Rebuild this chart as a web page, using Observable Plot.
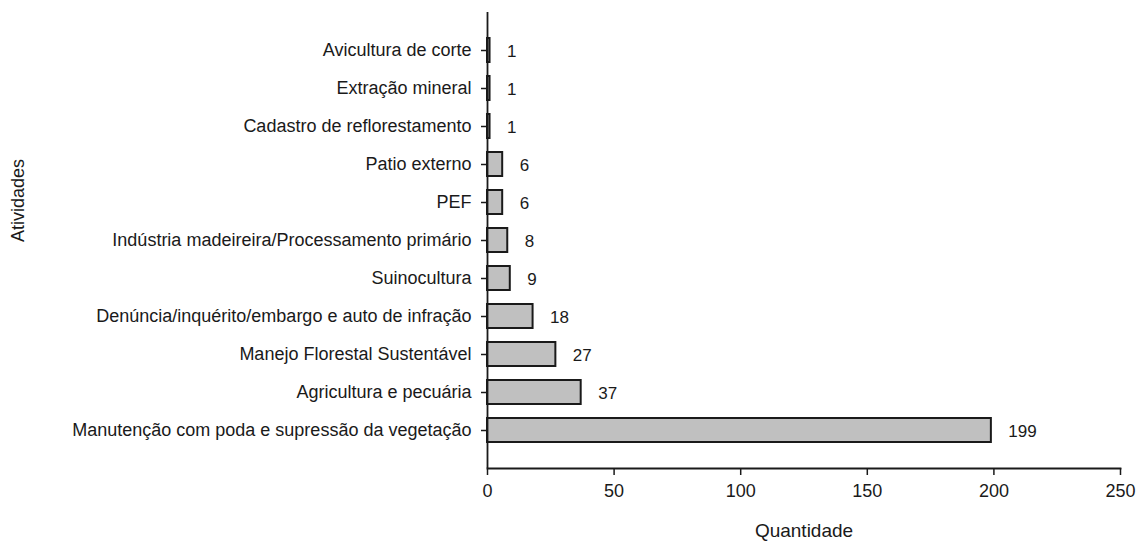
<!DOCTYPE html>
<html>
<head>
<meta charset="utf-8">
<script src="https://cdn.jsdelivr.net/npm/d3@7"></script>
<script src="https://cdn.jsdelivr.net/npm/@observablehq/plot@0.6"></script>
<style>
  html, body { margin: 0; padding: 0; background: #fff; }
</style>
</head>
<body>
<div id="chart"></div>
<script>
const categories = [
  "Avicultura de corte",
  "Extração mineral",
  "Cadastro de reflorestamento",
  "Patio externo",
  "PEF",
  "Indústria madeireira/Processamento primário",
  "Suinocultura",
  "Denúncia/inquérito/embargo e auto de infração",
  "Manejo Florestal Sustentável",
  "Agricultura e pecuária",
  "Manutenção com poda e supressão da vegetação"
];
const values = [1, 1, 1, 6, 6, 8, 9, 18, 27, 37, 199];
const xTicks = [0, 50, 100, 150, 200, 250];
const xTitle = "Quantidade";
const yTitle = "Atividades";

const data = categories.map((c, i) => ({cat: c, value: values[i]}));

const chart = Plot.plot({
  width: 1142,
  height: 542,
  marginLeft: 487,
  marginRight: 22,
  marginTop: 12,
  marginBottom: 74,
  style: {fontFamily: "'Liberation Sans', Arial, sans-serif", fontSize: "18px", color: "#1a1a1a", background: "#fff"},
  x: {domain: [0, 250], label: null},
  y: {domain: categories, paddingInner: 0.37, paddingOuter: 0.68, label: null},
  marks: [
    Plot.barX(data, {x: "value", y: "cat", fill: "#c0c0c0", stroke: "#1a1a1a", strokeWidth: 2}),
    Plot.text(data, {x: "value", y: "cat", text: d => String(d.value), textAnchor: "start", dx: 17, dy: 1, fontSize: 17, fill: "#1a1a1a"}),
    Plot.ruleX([0], {stroke: "#1a1a1a", strokeWidth: 1.8}),
    Plot.frame({anchor: "bottom", stroke: "#1a1a1a", strokeWidth: 1.8}),
    Plot.axisX({ticks: xTicks, tickSize: 7, tickPadding: 9, label: null, fontSize: 18, strokeWidth: 1.5}),
    Plot.axisY({tickSize: 6, tickPadding: 10, label: null, fontSize: 18, strokeWidth: 1.5}),
    Plot.text([xTitle], {frameAnchor: "bottom", dy: 62, text: d => d, textAnchor: "middle", lineAnchor: "middle", fontSize: 19, fill: "#1a1a1a"}),
    Plot.text([yTitle], {frameAnchor: "left", dx: -469, dy: -40, text: d => d, rotate: -90, textAnchor: "middle", lineAnchor: "middle", fontSize: 18, fill: "#1a1a1a"})
  ]
});
document.getElementById("chart").appendChild(chart);
</script>
</body>
</html>
